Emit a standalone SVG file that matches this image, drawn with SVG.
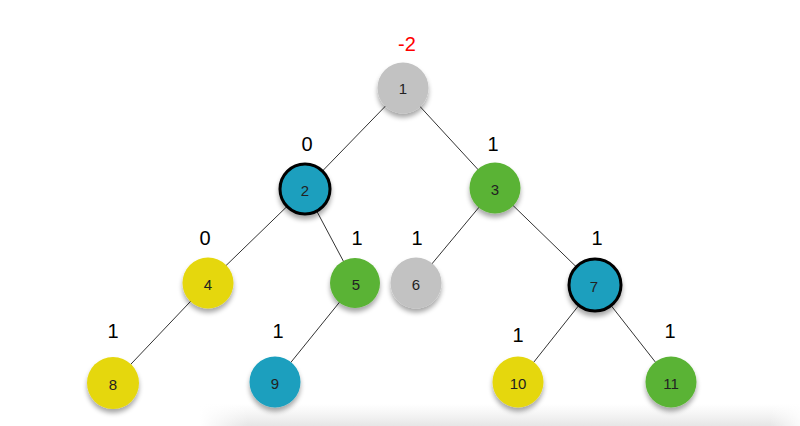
<svg xmlns="http://www.w3.org/2000/svg" width="800" height="426" viewBox="0 0 800 426">
<defs>
<filter id="sh" x="-50%" y="-50%" width="200%" height="200%">
<feGaussianBlur in="SourceAlpha" stdDeviation="2.5"/>
<feOffset dx="0" dy="4" result="b"/>
<feComponentTransfer><feFuncA type="linear" slope="0.35"/></feComponentTransfer>
<feMerge><feMergeNode/><feMergeNode in="SourceGraphic"/></feMerge>
</filter>
<linearGradient id="floor" x1="0" y1="0" x2="0" y2="1">
<stop offset="0" stop-color="#ebebeb" stop-opacity="0"/>
<stop offset="1" stop-color="#e6e6e6" stop-opacity="1"/>
</linearGradient>
<linearGradient id="fade" x1="0" y1="0" x2="1" y2="0">
<stop offset="0" stop-color="#fff" stop-opacity="1"/>
<stop offset="0.08" stop-color="#fff" stop-opacity="0"/>
<stop offset="0.95" stop-color="#fff" stop-opacity="0"/>
<stop offset="1" stop-color="#fff" stop-opacity="0.8"/>
</linearGradient>
</defs>
<style>
.e{stroke:#333;stroke-width:1;fill:none}
.n{filter:url(#sh)}
.gray{fill:#c2c2c2}
.blue{fill:#1a9fbe}
.green{fill:#5ab334}
.yellow{fill:#e5d70b}
.bold{stroke:#000;stroke-width:3}
.t{font-family:"Liberation Sans",Arial,sans-serif;font-size:15px;fill:#222;text-anchor:middle;dominant-baseline:central}
.l{font-family:"Liberation Sans",Arial,sans-serif;font-size:20px;fill:#000;text-anchor:middle}
.r{fill:#ff0000}
</style>
<rect x="0" y="0" width="800" height="426" fill="#fff"/>
<rect x="200" y="404" width="600" height="22" fill="url(#floor)"/>
<rect x="200" y="404" width="600" height="22" fill="url(#fade)"/>
<g id="connectors">
<line class="e" x1="403" y1="88" x2="305" y2="189"/>
<line class="e" x1="403" y1="88" x2="495" y2="188"/>
<line class="e" x1="305" y1="189" x2="208" y2="283"/>
<line class="e" x1="305" y1="189" x2="355" y2="283"/>
<line class="e" x1="495" y1="188" x2="416" y2="283"/>
<line class="e" x1="495" y1="188" x2="595" y2="285"/>
<line class="e" x1="208" y1="283" x2="113" y2="383"/>
<line class="e" x1="355" y1="283" x2="275" y2="382"/>
<line class="e" x1="595" y1="285" x2="518" y2="382"/>
<line class="e" x1="595" y1="285" x2="671" y2="382"/>
</g>
<g id="n1"><circle class="n gray" cx="403" cy="88" r="25.5"/><text class="t" x="403" y="88">1</text><text class="l r" x="407" y="51">-2</text></g>
<g id="n2"><circle class="n blue bold" cx="305" cy="189" r="25"/><text class="t" x="305" y="190">2</text><text class="l" x="307" y="151">0</text></g>
<g id="n3"><circle class="n green" cx="495" cy="188" r="25.5"/><text class="t" x="495" y="189">3</text><text class="l" x="493" y="151">1</text></g>
<g id="n4"><circle class="n yellow" cx="208" cy="283" r="25.5"/><text class="t" x="208" y="284">4</text><text class="l" x="205" y="245">0</text></g>
<g id="n5"><circle class="n green" cx="355" cy="283" r="25"/><text class="t" x="356" y="284">5</text><text class="l" x="357" y="245">1</text></g>
<g id="n6"><circle class="n gray" cx="416" cy="283" r="25.5"/><text class="t" x="416" y="284">6</text><text class="l" x="417" y="245">1</text></g>
<g id="n7"><circle class="n blue bold" cx="595" cy="285" r="26"/><text class="t" x="594" y="286">7</text><text class="l" x="597" y="245">1</text></g>
<g id="n8"><circle class="n yellow" cx="113" cy="383" r="26"/><text class="t" x="113" y="384">8</text><text class="l" x="113" y="338">1</text></g>
<g id="n9"><circle class="n blue" cx="275" cy="382" r="25.5"/><text class="t" x="275" y="383">9</text><text class="l" x="278" y="338">1</text></g>
<g id="n10"><circle class="n yellow" cx="518" cy="382" r="25.5"/><text class="t" x="518" y="383">10</text><text class="l" x="518" y="342">1</text></g>
<g id="n11"><circle class="n green" cx="671" cy="382" r="25.5"/><text class="t" x="671" y="383">11</text><text class="l" x="670" y="338">1</text></g>
</svg>
